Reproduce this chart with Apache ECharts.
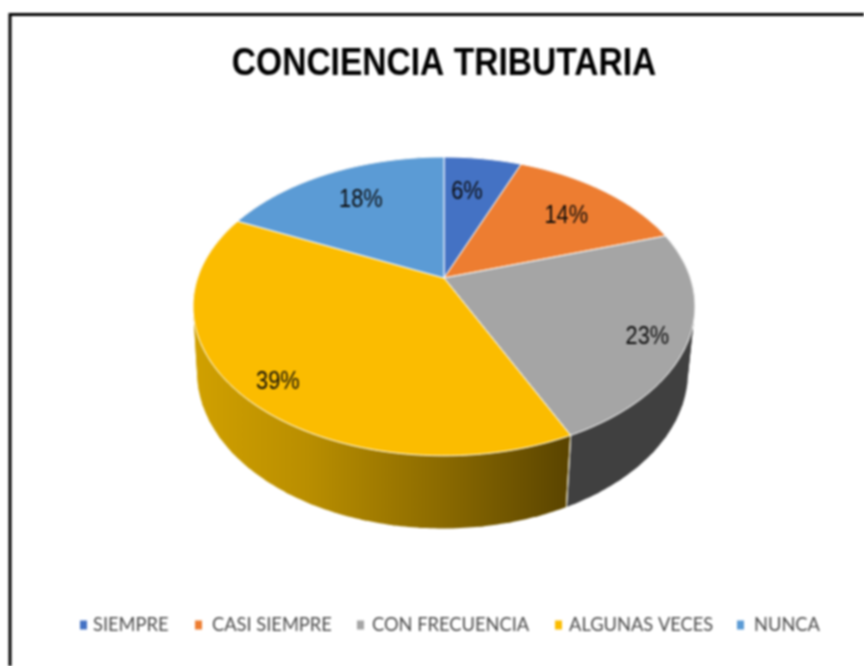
<!DOCTYPE html>
<html>
<head>
<meta charset="utf-8">
<style>
html,body{margin:0;padding:0;background:#fff;overflow:hidden}
#c{width:864px;height:666px;filter:blur(0.8px)}
</style>
<script src="https://cdn.jsdelivr.net/npm/echarts@6/dist/echarts.min.js"></script>
</head>
<body>
<div id="c"></div>
<script>
const categories = ['SIEMPRE', 'CASI SIEMPRE', 'CON FRECUENCIA', 'ALGUNAS VECES', 'NUNCA'];
const percentValues = [6, 14, 23, 39, 18];

const topColors = ['#4472C4', '#ED7D31', '#A5A5A5', '#FBBC00', '#5B9BD5'];
const wallStops = [
  [[0, '#2a4478'], [1, '#2a4478']],
  [[0, '#8e4b1d'], [1, '#8e4b1d']],
  [[0, '#474747'], [1, '#404040']],
  [[0, '#d0a000'], [0.3, '#b98e00'], [0.65, '#8c6b00'], [1, '#5a4400']],
  [[0, '#37607f'], [1, '#37607f']]
];
const labelRadius = [0.71, 0.72, 0.85, 0.85, 0.71];
const labelShift = [[-6, 3], [4, 3], [-2, 7], [1, 6], [1, 0]];
const legendIconLeft = [80, 195, 357, 555, 737];
const legendTextPad = [1, 5, 3, 2, 5];
const top_ = {cx: 444, y0: 278, a: 246.4, b: 144};
const wall_ = {cx: 442.5, y0: 342, a: 241, b: 151};
const persp = 0.19, gradX0 = 196, gradX1 = 569;

const total = percentValues.reduce((s, v) => s + v, 0);
const starts = percentValues.map((_, i) => percentValues.slice(0, i).reduce((s, v) => s + v, 0));

function project(theta, r, g) {
  const u = Math.sin(theta) * r, v = Math.cos(theta) * r, w = 1 + persp * v;
  return [g.cx + g.a * u / w, g.y0 - g.b * v / w];
}
function arc(t0, t1, g) {
  const n = Math.max(2, Math.ceil(Math.abs(t1 - t0) / 0.015));
  const pts = [];
  for (let i = 0; i <= n; i++) pts.push(project(t0 + (t1 - t0) * i / n, 1, g));
  return pts;
}
function renderSlice(idx) {
  return function (params, api) {
    const val = api.value(0), start = api.value(1);
    const t0 = start / total * 2 * Math.PI, t1 = (start + val) / total * 2 * Math.PI;
    const grad = new echarts.graphic.LinearGradient(gradX0, 0, gradX1, 0,
      wallStops[idx].map(s => ({offset: s[0], color: s[1]})), true);
    const children = [];
    const step = 0.1;
    for (let t = t0; t < t1; t += step) {
      const e = Math.min(t + step + 0.02, t1);
      children.push({type: 'polygon', z2: 1,
        shape: {points: arc(t, e, top_).concat(arc(e, t, wall_))},
        style: {fill: grad}});
    }
    [t0, t1].forEach(t => children.push({type: 'polyline', z2: 2,
      shape: {points: [project(t, 1, top_), project(t, 1, wall_)]},
      style: {stroke: '#f0ecdc', lineWidth: 1, fill: 'none'}}));
    const top = [[top_.cx, top_.y0]].concat(arc(t0, t1, top_));
    children.push({type: 'polygon', z2: 5, shape: {points: top},
      style: {fill: topColors[idx], stroke: '#ffffff', lineWidth: 1, lineJoin: 'round'}});
    const lp = project((t0 + t1) / 2, labelRadius[idx], top_);
    children.push({type: 'text', z2: 10,
      x: lp[0] + labelShift[idx][0], y: lp[1] + labelShift[idx][1], scaleX: 0.87,
      style: {text: val + '%', align: 'center', verticalAlign: 'middle',
        font: '25px "Liberation Sans",sans-serif', fill: '#0a0a0a'}});
    return {type: 'group', children};
  };
}

const chart = echarts.init(document.getElementById('c'), null, {renderer: 'canvas'});
chart.setOption({
  animation: false,
  backgroundColor: '#ffffff',
  legend: categories.map((name, i) => ({
    data: [name], left: legendIconLeft[i], top: 616, padding: 0,
    itemWidth: 7, itemHeight: 9, icon: 'rect', selectedMode: false,
    textStyle: {fontFamily: 'Lato', fontSize: 18.3, color: '#4a4a4a', padding: [0, 0, 0, legendTextPad[i]]}
  })),
  graphic: [
    {type: 'polyline', silent: true,
      shape: {points: [[10, 667], [10, 14.5], [865, 14.5]]},
      style: {stroke: '#000000', lineWidth: 3, fill: 'none'}},
    {type: 'text', silent: true, x: 444, y: 65, scaleX: 0.883,
      style: {text: 'CONCIENCIA TRIBUTARIA', align: 'center', verticalAlign: 'middle',
        font: 'bold 38px "Liberation Sans",sans-serif', fill: '#000000'}}
  ],
  series: categories.map((name, i) => ({
    type: 'custom', name, coordinateSystem: 'none',
    itemStyle: {color: topColors[i]},
    data: [[percentValues[i], starts[i]]],
    renderItem: renderSlice(i)
  }))
});
</script>
</body>
</html>
